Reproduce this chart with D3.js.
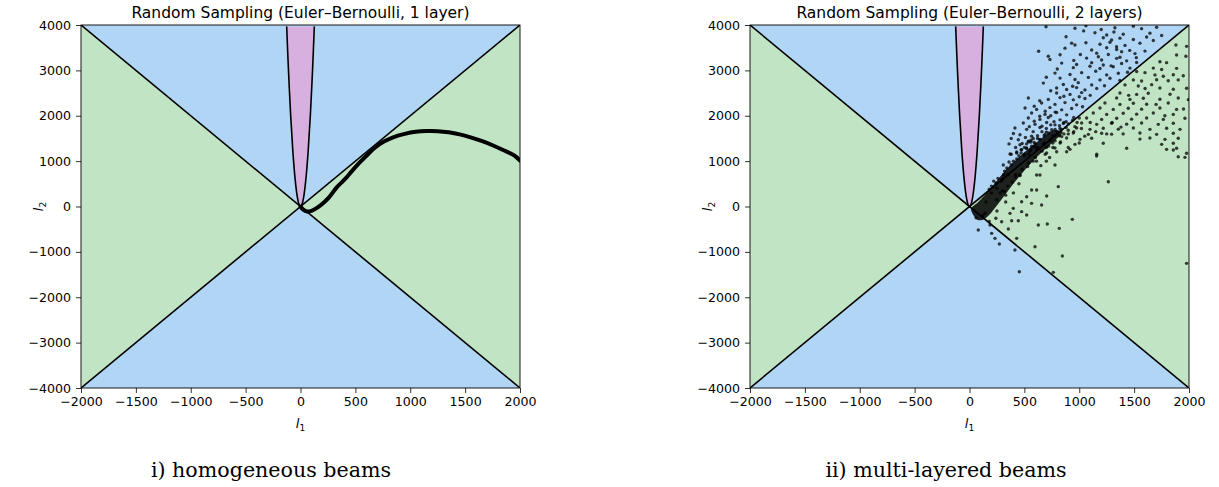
<!DOCTYPE html>
<html>
<head>
<meta charset="utf-8">
<script src="https://cdn.jsdelivr.net/npm/d3@7"></script>
<style>
  body { margin: 0; background: #fff; }
  text { font-family: "DejaVu Sans", sans-serif; fill: #000; }
  .tick line { stroke: #000; stroke-width: 0.8; }
  .caption { font-family: "DejaVu Serif", "Liberation Serif", serif; }
</style>
</head>
<body>
<script>
//-----------------------------DATA------------------------------//
const xTicks = [-2000, -1500, -1000, -500, 0, 500, 1000, 1500, 2000];
const yTicks = [-4000, -3000, -2000, -1000, 0, 1000, 2000, 3000, 4000];

// boundary of the pink region
const paraI1 = [-126, -110, -90, -70, -50, -30, -15, 0, 15, 30, 50, 70, 90, 110, 126];
const paraI2 = [3969, 3025, 2025, 1225, 625, 225, 56, 0, 56, 225, 625, 1225, 2025, 3025, 3969];

// left panel: homogeneous beams curve
const curveI1 = [0, 25, 60, 100, 150, 200, 260, 330, 400, 470, 540, 610, 680, 760, 850, 950, 1050, 1150, 1250, 1350, 1450, 1550, 1650, 1750, 1850, 1950, 2000];
const curveI2 = [0, -70, -110, -95, -30, 60, 200, 420, 590, 785, 970, 1140, 1300, 1430, 1530, 1600, 1645, 1662, 1660, 1635, 1590, 1525, 1445, 1350, 1240, 1120, 1010];

// right panel: dense band of samples (outline)
const bandI1 = [15, 80, 150, 250, 360, 460, 550, 630, 700, 760, 850, 770, 690, 600, 510, 400, 300, 230, 170, 115, 70, 35];
const bandI2 = [-50, 100, 280, 570, 880, 1110, 1300, 1450, 1580, 1680, 1640, 1440, 1260, 1060, 820, 500, 180, -40, -210, -300, -290, -190];

// right panel: individual samples
const scatterI1 = [
  697, 961, 1061, 1325, 1493, 1568, 1705, 1200,
  1143, 1250, 1316, 1401, 1644, 1751, 1040,
  1219, 1295, 1371, 1493, 1614, 1675, 880,
  931, 961, 1061, 1189, 1280, 1417, 1553, 1340,
  870, 1113, 1250, 1341, 1460,
  630, 1159, 1386, 1508, 1599, 1010,
  718, 825, 1174, 1265, 1371, 1520,
  733, 1067, 1204, 1341, 1432, 950,
  840, 976, 1113, 1219, 1386, 1523, 1290,
  946, 1098, 1189, 1310, 1462, 800,
  779, 916, 1022, 1250, 1356, 1150, 1440,
  825, 961, 1083, 1189, 1280, 700, 1370,
  673, 855, 991, 1113, 1230, 940,
  794, 885, 976, 1052, 1159, 740,
  794, 916, 1022, 860, 1100, 1000,
  536, 718, 825, 946, 1052, 640,
  657, 779, 870, 976, 590, 1030,
  506, 612, 733, 840, 931, 690, 780,
  566, 688, 794, 885, 640, 740, 950,
  536, 642, 718, 825, 590, 770, 880,
  490, 597, 703, 779, 855, 660, 545,
  414, 521, 642, 749, 825, 580, 700,
  460, 566, 688, 779, 510, 620, 400,
  445, 536, 642, 733, 480, 590, 380,
  460, 566, 673, 520, 420, 360,
  475, 551, 612, 430, 500, 380,
  1881, 1978, 1887, 1972, 1735, 1796, 1675, 1751, 1887, 1523, 1599, 1690, 1766, 1857, 1948,
  1493, 1568, 1705, 1811, 1902, 1417, 1538, 1660, 1735, 1857, 1978, 1371, 1523, 1629, 1827,
  1341, 1462, 1584, 1735, 1902, 1994, 1234, 1371, 1493, 1614, 1811, 1189, 1310, 1447, 1568,
  1735, 1887, 1128, 1250, 1401, 1523, 1675, 1857, 1067, 1204, 1341, 1477, 1614, 1766, 1963,
  1022, 1159, 1295, 1432, 1568, 1720, 1857, 976, 1098, 1219, 1356, 1493, 1644, 1796, 1918,
  946, 1083, 1204, 1295, 1553, 1705, 1857, 885, 1007, 1113, 1553, 1644, 1781, 1902,
  825, 961, 1219, 1751, 1857, 779, 916, 1432, 1796, 1887, 703, 1159, 1978,
  1300, 1050, 1150, 1400, 1700, 1600, 1450, 1780, 1950, 1000, 900, 1100, 1250, 1380,
  1158, 1265, 1857, 1902, 1963, 1978, 779, 809, 703, 657, 566, 612, 521, 566, 475, 475, 399,
  521, 369, 627, 709, 818, 937, 445, 384, 354, 430, 414, 597, 846, 764, 454, 272, 232, 202,
  80, 187, 293, 885, 794, 612, 642, 369, 308, 700, 730, 580, 650,
  500, 540, 580, 620, 660, 700, 740, 780, 820, 860, 520, 560, 600, 640, 680, 720, 760, 800,
  840, 880, 900, 940, 620, 680, 740, 700, 760, 820, 860, 900, 960, 980, 1000, 560, 590, 430,
  470, 500, 540,
  300, 330, 250, 200, 420, 460, 350, 300, 150, 120, 60, 140, 250, 330, 400, 450, 180, 240,
  200, 260, 320, 380, 430, 290, 340, 240, 400, 470, 360, 310, 180, 220, 450, 520, 560,
  280, 350, 420, 480, 540, 600, 660, 720, 780, 840, 900, 250, 320, 390, 460, 530, 610, 690,
  760, 830, 950, 1020
];
const scatterI2 = [
  3960, 3930, 3985, 3940, 3975, 3920, 3950, 3900,
  3830, 3780, 3845, 3795, 3820, 3770, 3870,
  3720, 3670, 3710, 3680, 3735, 3660, 3740,
  3600, 3560, 3610, 3575, 3620, 3550, 3600, 3520,
  3490, 3450, 3500, 3460, 3440,
  3420, 3380, 3410, 3370, 3425, 3350,
  3310, 3345, 3300, 3350, 3290, 3280,
  3240, 3270, 3230, 3265, 3210, 3220,
  3160, 3130, 3170, 3120, 3150, 3175, 3100,
  3060, 3090, 3040, 3080, 3050, 3030,
  2940, 2910, 2950, 2900, 2935, 2980, 2960,
  2830, 2800, 2845, 2790, 2825, 2850, 2780,
  2720, 2690, 2730, 2680, 2660, 2650,
  2610, 2580, 2620, 2570, 2600, 2550,
  2500, 2470, 2510, 2430, 2450, 2420,
  2390, 2360, 2400, 2350, 2380, 2330,
  2280, 2250, 2290, 2240, 2210, 2200,
  2170, 2140, 2180, 2130, 2160, 2100, 2080,
  2060, 2030, 2070, 2020, 1990, 2000, 1960,
  1950, 1920, 1960, 1910, 1880, 1870, 1870,
  1840, 1810, 1850, 1800, 1830, 1770, 1760,
  1730, 1700, 1740, 1690, 1720, 1650, 1640,
  1580, 1550, 1590, 1560, 1520, 1500, 1610,
  1470, 1440, 1480, 1450, 1390, 1410, 1500,
  1360, 1330, 1370, 1290, 1300, 1380,
  1250, 1220, 1260, 1180, 1120, 1150,
  3560, 3530, 3340, 3310, 3190, 3170, 3050, 3020, 3045, 2975, 2950, 2900, 2870, 2905, 2880,
  2790, 2765, 2795, 2770, 2790, 2680, 2655, 2685, 2610, 2585, 2605, 2500, 2470, 2495, 2475,
  2390, 2360, 2385, 2365, 2390, 2355, 2280, 2250, 2275, 2255, 2280, 2170, 2140, 2165, 2145,
  2170, 2140, 2060, 2030, 2055, 2035, 2060, 2030, 1950, 1920, 1945, 1925, 1950, 1920, 1945,
  1840, 1810, 1835, 1815, 1840, 1810, 1835, 1730, 1700, 1725, 1705, 1730, 1700, 1725, 1700,
  1620, 1590, 1615, 1595, 1620, 1590, 1615, 1510, 1480, 1505, 1485, 1510, 1480, 1505,
  1400, 1370, 1395, 1370, 1395, 1290, 1260, 1285, 1260, 1285, 1180, 1150, 1175,
  1850, 1550, 1650, 1600, 2250, 2600, 2450, 2000, 2150, 1400, 1300, 1850, 1600, 1750,
  1113, 547, 1245, 1098, 1083, -1253, 914, 437, 231, 33, 363, 363, 216, 69, 106, -114, -41,
  -188, -151, -408, -386, -482, -283, -313, -313, -496, -702, -959, -886, -1091, -1451, -1437, -827, -702, -592,
  -518, -408, -335, 1208, 1208, 694, 694, 1157, 914, 1000, 1080, 1000, 900,
  1300, 1420, 1500, 1560, 1650, 1720, 1800, 1700, 1780, 1850, 1380, 1460, 1380, 1480, 1560, 1620, 1560, 1640,
  1700, 1740, 1820, 1900, 1300, 1400, 1480, 1300, 1400, 1560, 1600, 1680, 1760, 1850, 1950, 1250, 1320, 1200,
  1250, 1150, 1150,
  350, 250, 400, 300, 650, 700, 700, 600, 100, -200, -250, -150, -100, 100, 300, 500, -330, -260,
  450, 620, 780, 920, 1050, 560, 850, 520, 1000, 1180, 980, 700, 380, 560, 1120, 1280, 1420,
  300, 450, 700, 820, 960, 1080, 1220, 1330, 1450, 1540, 1600, 150, 330, 540, 680, 880, 1000, 1150,
  1300, 1420, 1650, 1720
];

//-----------------------------LAYOUT------------------------------//
const W = 1219, H = 487;
const plotTop = 25, plotBottom = 388;
const colors = { blue: "#b1d5f5", green: "#c1e4c4", pink: "#d8b0e0" };

const svg = d3.select("body").append("svg").attr("width", W).attr("height", H);
svg.append("rect").attr("width", W).attr("height", H).attr("fill", "#fff");

function drawPanel(left, right, id, title, caption, captionX, drawData) {
  const x = d3.scaleLinear().domain([-2000, 2000]).range([left, right]);
  const y = d3.scaleLinear().domain([-4000, 4000]).range([plotBottom, plotTop]);
  const g = svg.append("g");

  g.append("clipPath").attr("id", "clip" + id).append("rect")
    .attr("x", left).attr("y", plotTop).attr("width", right - left).attr("height", plotBottom - plotTop);
  const plot = g.append("g").attr("clip-path", "url(#clip" + id + ")");

  // regions
  plot.append("rect").attr("x", left).attr("y", plotTop)
    .attr("width", right - left).attr("height", plotBottom - plotTop).attr("fill", colors.blue);
  const poly = d3.line().x(d => x(d[0])).y(d => y(d[1]));
  plot.append("path").attr("d", poly([[-2000, -4000], [0, 0], [-2000, 4000]]) + "Z").attr("fill", colors.green);
  plot.append("path").attr("d", poly([[2000, -4000], [0, 0], [2000, 4000]]) + "Z").attr("fill", colors.green);

  const para = paraI1.map((v, i) => [v, paraI2[i]]);
  const paraLine = d3.line().curve(d3.curveCatmullRom).x(d => x(d[0])).y(d => y(d[1]));
  plot.append("path").attr("d", paraLine(para) + "Z").attr("fill", colors.pink);

  // boundary lines
  plot.append("path").attr("d", poly([[-2000, -4000], [2000, 4000]])).attr("stroke", "#000").attr("stroke-width", 1.6);
  plot.append("path").attr("d", poly([[-2000, 4000], [2000, -4000]])).attr("stroke", "#000").attr("stroke-width", 1.6);
  plot.append("path").attr("d", paraLine(para)).attr("fill", "none").attr("stroke", "#000").attr("stroke-width", 1.6);

  drawData(plot, x, y);

  // spines
  g.append("rect").attr("x", left).attr("y", plotTop).attr("width", right - left).attr("height", plotBottom - plotTop)
    .attr("fill", "none").attr("stroke", "#000").attr("stroke-width", 0.9);

  // axes
  const fmt = d3.format("d");
  const xa = g.append("g").attr("transform", "translate(0," + plotBottom + ")")
    .call(d3.axisBottom(x).tickValues(xTicks).tickSize(5).tickPadding(4).tickFormat(fmt));
  xa.select(".domain").remove();
  const ya = g.append("g").attr("transform", "translate(" + left + ",0)")
    .call(d3.axisLeft(y).tickValues(yTicks).tickSize(5).tickPadding(5).tickFormat(fmt));
  ya.select(".domain").remove();
  g.selectAll(".tick text").attr("font-family", "DejaVu Sans").attr("font-size", 12.6);

  // labels
  const cx = (left + right) / 2;
  g.append("text").attr("x", cx).attr("y", 18).attr("text-anchor", "middle")
    .attr("font-size", 15.5).text(title);
  const xl = g.append("text").attr("x", cx).attr("y", 428).attr("text-anchor", "middle").attr("font-size", 13);
  xl.append("tspan").attr("font-style", "italic").text("l");
  xl.append("tspan").attr("font-size", 9).attr("dy", 3).text("1");
  const yl = g.append("text").attr("transform", "translate(" + (left - 38) + "," + ((plotTop + plotBottom) / 2) + ") rotate(-90)")
    .attr("text-anchor", "middle").attr("font-size", 13);
  yl.append("tspan").attr("font-style", "italic").text("l");
  yl.append("tspan").attr("font-size", 9).attr("dy", 3).text("2");

  g.append("text").attr("class", "caption").attr("x", captionX).attr("y", 477).attr("text-anchor", "middle")
    .attr("font-size", 20.6).text(caption);
}

//-------------------------LEFT PANEL----------------------------//
drawPanel(81, 520, 1, "Random Sampling (Euler\u2013Bernoulli, 1 layer)", "i) homogeneous beams", 271,
  function(plot, x, y) {
    const pts = curveI1.map((v, i) => [v, curveI2[i]]);
    plot.append("path")
      .attr("d", d3.line().curve(d3.curveCatmullRom).x(d => x(d[0])).y(d => y(d[1]))(pts))
      .attr("fill", "none").attr("stroke", "#000").attr("stroke-width", 4)
      .attr("stroke-linejoin", "round").attr("stroke-linecap", "round");
  });

//-------------------------RIGHT PANEL---------------------------//
drawPanel(750, 1189, 2, "Random Sampling (Euler\u2013Bernoulli, 2 layers)", "ii) multi-layered beams", 946,
  function(plot, x, y) {
    const band = bandI1.map((v, i) => [v, bandI2[i]]);
    plot.append("path")
      .attr("d", d3.line().curve(d3.curveCatmullRomClosed).x(d => x(d[0])).y(d => y(d[1]))(band))
      .attr("fill", "#000").attr("fill-opacity", 0.85);
    const pts = scatterI1.map((v, i) => [v, scatterI2[i]]);
    plot.selectAll("circle.pt").data(pts).enter().append("circle")
      .attr("class", "pt")
      .attr("cx", d => x(d[0])).attr("cy", d => y(d[1])).attr("r", 1.7)
      .attr("fill", "#000").attr("fill-opacity", 0.75);
  });
</script>
</body>
</html>
